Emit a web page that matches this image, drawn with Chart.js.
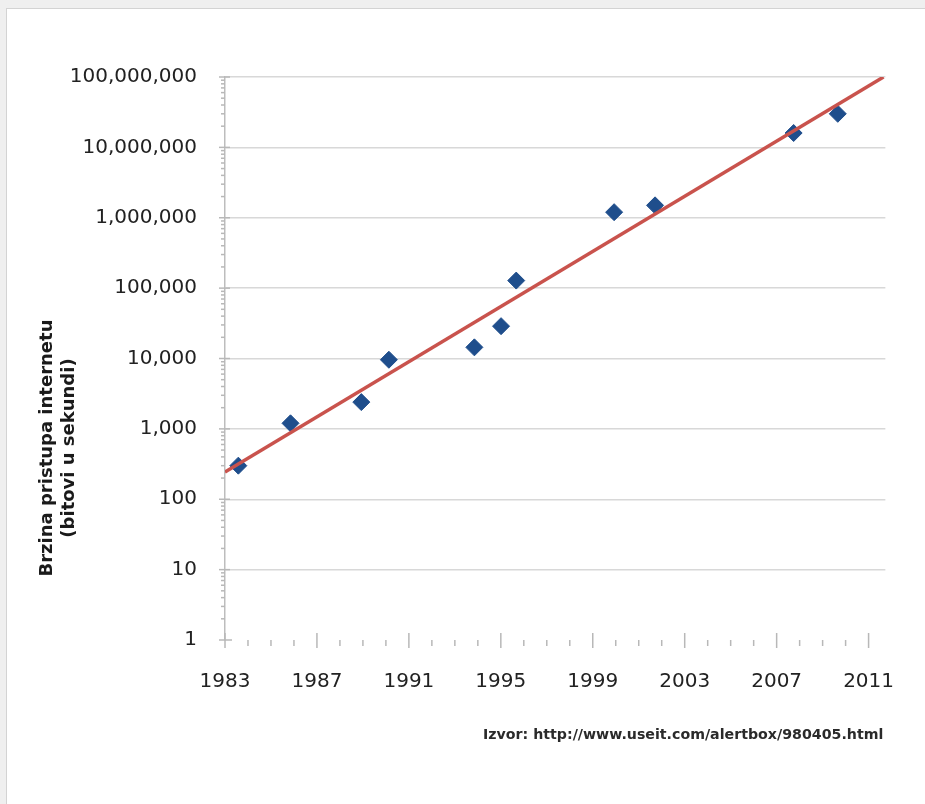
<!DOCTYPE html>
<html>
<head>
<meta charset="utf-8">
<script src="https://cdn.jsdelivr.net/npm/chart.js@4"></script>
<style>
  html, body { margin: 0; padding: 0; background: #efefef; width: 925px; height: 804px; overflow: hidden; }
  #panel { position: absolute; left: 6px; top: 8px; width: 919px; height: 796px; background: #fff;
           border-left: 1px solid #d3d3d3; border-top: 1px solid #d3d3d3; box-sizing: border-box; }
  #wrap { position: absolute; left: 0; top: 0; width: 925px; height: 804px; }
  #ytitle { position: absolute; left: -93px; top: 426px; width: 300px; height: 44px;
            transform: rotate(-90deg); transform-origin: 50% 50%;
            font: bold 18px "DejaVu Sans"; line-height: 22px; text-align: center; color: #1a1a1a; white-space: nowrap; }
  #source { position: absolute; left: 483px; top: 726px; font: bold 14.2px "DejaVu Sans"; color: #2a2a2a; white-space: nowrap; }
</style>
</head>
<body>
<div id="panel"></div>
<div id="wrap"><canvas id="c" width="925" height="804"></canvas></div>
<div id="ytitle">Brzina pristupa internetu<br>(bitovi u sekundi)</div>
<div id="source">Izvor: http://www.useit.com/alertbox/980405.html</div>
<script>
// Measured access speeds (bits per second) by year
const years  = [1983.58, 1985.85, 1988.93, 1990.13, 1993.85, 1995.01, 1995.67, 1999.93, 2001.71, 2007.74, 2009.66];
const speeds = [300, 1200, 2400, 9600, 14400, 28800, 128000, 1200000, 1500000, 16000000, 30000000];

// Exponential trend line end points
const trendYears  = [1983, 2011.65];
const trendSpeeds = [244, 100000000];

// Axis ticks
const xTickYears  = [1983, 1987, 1991, 1995, 1999, 2003, 2007, 2011];
const yTickValues = [1, 10, 100, 1000, 10000, 100000, 1000000, 10000000, 100000000];

const labelFont = { family: 'DejaVu Sans', size: 20 };
const labelColor = '#222222';

// Small and large tick marks along both axes
const tickMarks = {
  id: 'tickMarks',
  beforeDatasetsDraw(chart) {
    const { ctx, scales: { x, y }, chartArea } = chart;
    ctx.save();
    ctx.strokeStyle = '#b8b8b8';
    ctx.lineWidth = 1.5;
    const axisY = y.getPixelForValue(1);
    for (let yr = Math.ceil(x.min); yr <= x.max; yr++) {
      const px = x.getPixelForValue(yr);
      const major = (yr - xTickYears[0]) % 4 === 0;
      ctx.beginPath();
      if (major) { ctx.moveTo(px, axisY - 7); ctx.lineTo(px, axisY + 8); }
      else { ctx.moveTo(px, axisY); ctx.lineTo(px, axisY + 6); }
      ctx.stroke();
    }
    const axisX = chartArea.left;
    yTickValues.forEach((v, i) => {
      const py = y.getPixelForValue(v);
      ctx.beginPath();
      ctx.moveTo(axisX - 6, py); ctx.lineTo(axisX + (i === 0 ? 7 : 5), py);
      ctx.stroke();
      if (i < yTickValues.length - 1) {
        for (let k = 2; k <= 9; k++) {
          const pm = y.getPixelForValue(v * k);
          ctx.beginPath();
          ctx.moveTo(axisX - 4, pm); ctx.lineTo(axisX, pm);
          ctx.stroke();
        }
      }
    });
    ctx.restore();
  }
};

new Chart(document.getElementById('c'), {
  type: 'scatter',
  data: {
    datasets: [
      {
        label: 'Trend',
        data: trendYears.map((yr, i) => ({ x: yr, y: trendSpeeds[i] })),
        showLine: true,
        borderColor: '#c9534d',
        borderWidth: 3.5,
        pointRadius: 0,
        pointHoverRadius: 0
      },
      {
        label: 'Brzina',
        data: years.map((yr, i) => ({ x: yr, y: speeds[i] })),
        pointStyle: 'rectRot',
        pointRadius: 8.5,
        pointHoverRadius: 8.5,
        backgroundColor: '#1f4e8c',
        borderColor: '#1f4e8c',
        borderWidth: 1
      }
    ]
  },
  options: {
    responsive: false,
    animation: false,
    events: [],
    layout: { padding: { left: 0, top: 77, right: 38, bottom: 0 } },
    plugins: { legend: { display: false }, tooltip: { enabled: false } },
    scales: {
      x: {
        type: 'linear',
        min: 1983,
        max: 2011.73,
        afterBuildTicks(scale) { scale.ticks = xTickYears.map(v => ({ value: v })); },
        afterFit(scale) { scale.height = 164; },
        grid: { display: false, drawTicks: false },
        border: { display: false },
        ticks: { font: labelFont, color: labelColor, padding: 30, maxRotation: 0, autoSkip: false,
                 callback: v => String(v) }
      },
      y: {
        type: 'logarithmic',
        min: 1,
        max: 100000000,
        afterBuildTicks(scale) { scale.ticks = yTickValues.map(v => ({ value: v, major: true })); },
        afterFit(scale) { scale.width = 225; },
        grid: {
          drawTicks: false,
          lineWidth: 1.5,
          color: ctx => (ctx.tick && ctx.tick.value === 1) ? 'rgba(0,0,0,0)' : '#d8d8d8'
        },
        border: { display: true, color: '#bdbdbd', width: 1.5 },
        ticks: { font: labelFont, color: labelColor, padding: 28, autoSkip: false,
                 callback: v => Number(v).toLocaleString('en-US') }
      }
    }
  },
  plugins: [tickMarks]
});
</script>
</body>
</html>
